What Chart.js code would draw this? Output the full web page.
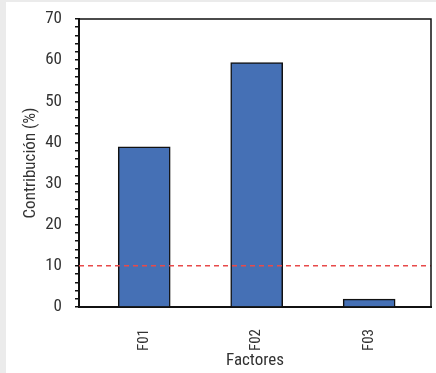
<!DOCTYPE html>
<html>
<head>
<meta charset="utf-8">
<script src="https://cdn.jsdelivr.net/npm/chart.js@4/dist/chart.umd.min.js"></script>
<style>
  html, body { margin: 0; padding: 0; background: #ebebeb; width: 436px; height: 373px; overflow: hidden; }
  #card { position: absolute; left: 6px; top: 2px; width: 430px; height: 371px; background: #fff; }
</style>
</head>
<body>
<div id="card"><canvas id="chart" width="430" height="371"></canvas></div>
<script>
const factores = ['F01', 'F02', 'F03'];
const contribucion = [38.9, 59.4, 1.9];
const umbral = 10;
const yTicks = { min: 0, max: 70, step: 2, labelEvery: 10 };

const FONT = "'Liberation Sans Narrow', 'Roboto Condensed', 'Liberation Sans', sans-serif";
const xMin = 0.42, xMax = 3.55;

// border on top/right of the plot area
const frame = {
    id: 'frame',
    afterDraw(chart) {
        const { ctx, chartArea: a } = chart;
        ctx.save();
        ctx.strokeStyle = '#111';
        ctx.lineWidth = 1.5;
        ctx.beginPath();
        ctx.moveTo(a.left, a.top);
        ctx.lineTo(a.right, a.top);
        ctx.lineTo(a.right, a.bottom);
        ctx.stroke();
        ctx.restore();
    }
};

new Chart(document.getElementById('chart'), {
    data: {
        datasets: [
            {
                type: 'bar',
                data: factores.map((f, i) => ({ x: i + 1, y: contribucion[i] })),
                backgroundColor: '#4570b5',
                borderColor: '#111',
                borderWidth: 1.5,
                barThickness: 52,
                order: 2
            },
            {
                type: 'line',
                data: [{ x: xMin, y: umbral }, { x: xMax, y: umbral }],
                borderColor: '#e84a4a',
                borderWidth: 1.5,
                borderDash: [5, 4],
                pointRadius: 0,
                order: 1
            }
        ]
    },
    options: {
        responsive: false,
        animation: false,
        layout: { padding: { top: 17, right: 5, left: 0, bottom: 0 } },
        plugins: { legend: { display: false }, tooltip: { enabled: false } },
        scales: {
            x: {
                type: 'linear',
                min: xMin,
                max: xMax,
                offset: false,
                afterBuildTicks: (s) => { s.ticks = factores.map((f, i) => ({ value: i + 1 })); },
                afterFit: (s) => { s.height = 66; s.paddingLeft = 0; s.paddingRight = 0; },
                grid: { display: false },
                border: { display: true, color: '#111', width: 2 },
                ticks: {
                    callback: (v) => factores[v - 1],
                    minRotation: 90,
                    maxRotation: 90,
                    padding: 14,
                    color: '#333',
                    font: { family: FONT, size: 15 }
                },
                title: {
                    display: true,
                    text: 'Factores',
                    color: '#333',
                    padding: { top: 0, bottom: 2 },
                    font: { family: FONT, size: 17 }
                }
            },
            y: {
                min: yTicks.min,
                max: yTicks.max,
                afterFit: (s) => { s.width = 73; s.paddingTop = 0; s.paddingBottom = 0; },
                grid: { drawOnChartArea: false, drawTicks: true, tickLength: 4, color: '#111', lineWidth: 1.5 },
                border: { display: true, color: '#111', width: 2 },
                ticks: {
                    stepSize: yTicks.step,
                    autoSkip: false,
                    callback: (v) => (v % yTicks.labelEvery === 0 ? String(v) : ''),
                    padding: 13,
                    color: '#333',
                    font: { family: FONT, size: 17 }
                },
                title: {
                    display: true,
                    text: 'Contribución (%)',
                    color: '#333',
                    padding: { top: 15, bottom: 0 },
                    font: { family: FONT, size: 17 }
                }
            }
        }
    },
    plugins: [frame]
});
</script>
</body>
</html>
